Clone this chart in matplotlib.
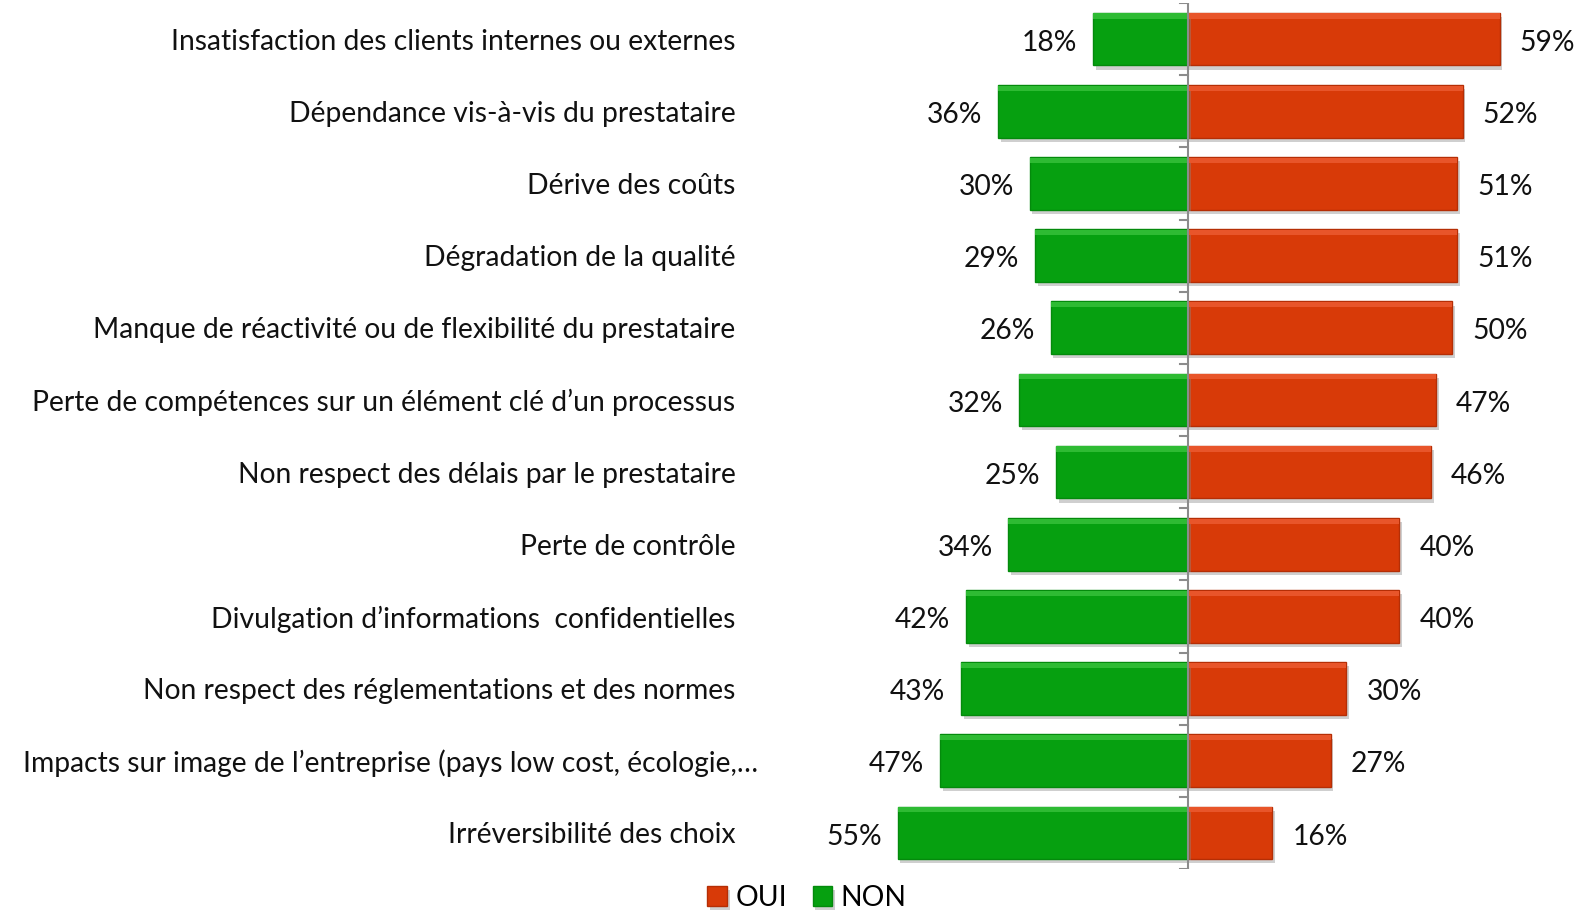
import matplotlib.pyplot as plt
import matplotlib.patheffects as pe
import matplotlib.transforms as mtransforms
import numpy as np

categories = [
    "Insatisfaction des clients internes ou externes",
    "Dépendance vis-à-vis du prestataire",
    "Dérive des coûts",
    "Dégradation de la qualité",
    "Manque de réactivité ou de flexibilité du prestataire",
    "Perte de compétences sur un élément clé d\u2019un processus",
    "Non respect des délais par le prestataire",
    "Perte de contrôle",
    "Divulgation d\u2019informations  confidentielles",
    "Non respect des réglementations et des normes",
    "Impacts sur image de l\u2019entreprise (pays low cost, écologie,\u2026",
    "Irréversibilité des choix",
]
oui = [59, 52, 51, 51, 50, 47, 46, 40, 40, 30, 27, 16]
non = [18, 36, 30, 29, 26, 32, 25, 34, 42, 43, 47, 55]

plt.rcParams["font.family"] = ["Lato", "DejaVu Sans"]
FS = 20.3

W, H = 1581, 910
fig = plt.figure(figsize=(W / 100, H / 100), dpi=100)
# zero at x=1188 px, 5.28 px per percent
x0, ppp = 1188, 5.28
left_px, right_px = 759, W
top_px, bot_px = 3, 869
ax = fig.add_axes([left_px / W, 1 - bot_px / H, (right_px - left_px) / W, (bot_px - top_px) / H])
ax.set_xlim((left_px - x0) / ppp, (right_px - x0) / ppp)
ax.set_ylim(len(categories) - 0.5, -0.5)

y = np.arange(len(categories))
shadow = [pe.SimplePatchShadow(offset=(2, -3), shadow_rgbFace="#888888", alpha=0.4), pe.Normal()]
c_oui, c_non = "#D83A08", "#06A010"
b1 = ax.barh(y, oui, height=0.73, color=c_oui, edgecolor="#B52E05", linewidth=1, label="OUI")
b2 = ax.barh(y, [-v for v in non], height=0.73, color=c_non, edgecolor="#048A0C", linewidth=1, label="NON")
for b in list(b1) + list(b2):
    b.set_path_effects(shadow)
# soft top highlight to mimic the bevel
ax.barh(y - 0.73 / 2 + 0.045, oui, height=0.07, color="#E8552A", linewidth=0)
ax.barh(y - 0.73 / 2 + 0.045, [-v for v in non], height=0.07, color="#2EBB33", linewidth=0)

for yi, o, n in zip(y, oui, non):
    ax.text(o + 3.8, yi + 0.05, f"{o}%", ha="left", va="center", fontsize=FS, color="#111111")
    ax.text(-n - 3, yi + 0.05, f"{n}%", ha="right", va="center", fontsize=FS, color="#111111")

for s in ["top", "right", "bottom", "left"]:
    ax.spines[s].set_visible(False)
ax.axvline(0, color="#8C8C8C", lw=1.5, zorder=5)
ax.set_xticks([])
ax.set_yticks(y)
ax.set_yticklabels(categories, fontsize=FS, color="#111111")
ax.tick_params(axis="y", length=0, pad=17)
# the truncated label sticks out a bit further in the original
lab = ax.get_yticklabels()[10]
lab.set_transform(lab.get_transform() + mtransforms.ScaledTranslation(0.23, 0, fig.dpi_scale_trans))
for b in np.arange(-0.5, len(categories), 1.0):
    ax.plot([-1.6, 0], [b, b], color="#8C8C8C", lw=1.5, zorder=5)

leg = fig.legend(handles=[b1, b2], labels=["OUI", "NON"], loc="center", bbox_to_anchor=(807 / W, 1 - 898 / H),
                 ncol=2, frameon=False, fontsize=FS, handlelength=0.7, handleheight=0.7,
                 handletextpad=0.3, columnspacing=0.9)

fig.savefig("out.png", dpi=100)
